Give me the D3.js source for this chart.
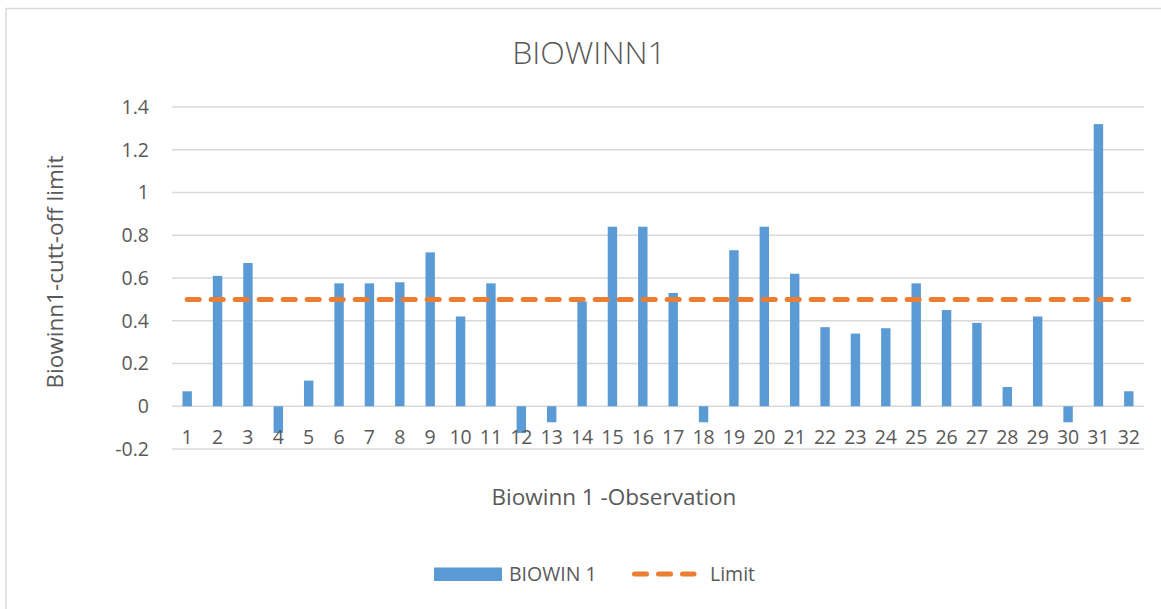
<!DOCTYPE html>
<html>
<head>
<meta charset="utf-8">
<script src="https://cdn.jsdelivr.net/npm/d3@7"></script>
<style>
  html, body { margin: 0; padding: 0; background: #fff; }
  svg text { font-family: "Open Sans", "Noto Sans", sans-serif; fill: #595959; }
</style>
</head>
<body>
<svg id="chart" width="1161" height="609"></svg>
<script>
// Observations 1..32 and their BIOWIN 1 scores
const observations = d3.range(1, 33).map(String);
const biowin1 = [
  0.07, 0.61, 0.67, -0.125, 0.12, 0.575, 0.575, 0.58, 0.72, 0.42,
  0.575, -0.125, -0.075, 0.49, 0.84, 0.84, 0.53, -0.075, 0.73, 0.84,
  0.62, 0.37, 0.34, 0.365, 0.575, 0.45, 0.39, 0.09, 0.42, -0.075,
  1.32, 0.07
];
// Cut-off limit, constant across all observations
const limit = observations.map(() => 0.5);
const yTicks = [-0.2, 0, 0.2, 0.4, 0.6, 0.8, 1, 1.2, 1.4];

const svg = d3.select("#chart");
const margin = { left: 172, right: 1144, top: 107, bottom: 449 };

// Chart frame
svg.append("rect")
  .attr("x", 6).attr("y", 8.5)
  .attr("width", 1170).attr("height", 620)
  .attr("fill", "#fff")
  .attr("stroke", "#d9d9d9").attr("stroke-width", 1.5);

const x = d3.scaleBand()
  .domain(observations)
  .range([margin.left, margin.right])
  .paddingInner(0.69)
  .paddingOuter(0.345);

const y = d3.scaleLinear()
  .domain([-0.2, 1.4])
  .range([margin.bottom, margin.top]);

// Horizontal gridlines
svg.append("g")
  .selectAll("line")
  .data(yTicks)
  .join("line")
  .attr("x1", margin.left).attr("x2", margin.right)
  .attr("y1", d => y(d)).attr("y2", d => y(d))
  .attr("stroke", "#d9d9d9").attr("stroke-width", 1.3);

// Y axis labels
const yAxis = d3.axisLeft(y).tickValues(yTicks).tickSize(0).tickPadding(0)
  .tickFormat(d => String(+d.toFixed(1)));
svg.append("g")
  .attr("transform", `translate(${149},0)`)
  .call(yAxis)
  .call(g => g.select(".domain").remove())
  .call(g => g.selectAll("text")
    .attr("font-size", 19.5)
    .attr("fill", "#595959")
    .attr("font-family", '"Open Sans", sans-serif'));

// Bars
svg.append("g")
  .selectAll("rect")
  .data(biowin1)
  .join("rect")
  .attr("x", (d, i) => x(observations[i]))
  .attr("width", x.bandwidth())
  .attr("y", d => y(Math.max(0, d)))
  .attr("height", d => Math.abs(y(d) - y(0)))
  .attr("fill", "#5b9bd5");

// X axis labels just under the zero line
const xAxis = d3.axisBottom(x).tickSize(0).tickPadding(0);
svg.append("g")
  .attr("transform", `translate(0,${y(0)})`)
  .call(xAxis)
  .call(g => g.select(".domain").remove())
  .call(g => g.selectAll("text")
    .attr("dy", null)
    .attr("y", 38)
    .attr("font-size", 19.5)
    .attr("fill", "#595959")
    .attr("font-family", '"Open Sans", sans-serif'));

// Limit line
const line = d3.line()
  .x((d, i) => x(observations[i]) + x.bandwidth() / 2)
  .y(d => y(d));
svg.append("path")
  .datum(limit)
  .attr("d", line)
  .attr("fill", "none")
  .attr("stroke", "#ed7d31")
  .attr("stroke-width", 5)
  .attr("stroke-linecap", "round")
  .attr("stroke-dasharray", "12,12");

// Title
svg.append("text")
  .attr("x", 589).attr("y", 64)
  .attr("text-anchor", "middle")
  .attr("font-size", 32)
  .attr("font-weight", 300)
  .text("BIOWINN1");

// Axis titles
svg.append("text")
  .attr("x", 614).attr("y", 505)
  .attr("text-anchor", "middle")
  .attr("font-size", 22.5)
  .text("Biowinn 1 -Observation");

svg.append("text")
  .attr("transform", "translate(63,272) rotate(-90)")
  .attr("text-anchor", "middle")
  .attr("font-size", 22.5)
  .text("Biowinn1-cutt-off limit");

// Legend
const legend = svg.append("g");
legend.append("rect")
  .attr("x", 434).attr("y", 567.5)
  .attr("width", 68).attr("height", 13.5)
  .attr("fill", "#5b9bd5");
legend.append("text")
  .attr("x", 509).attr("y", 581)
  .attr("font-size", 19.5)
  .text("BIOWIN 1");
legend.append("line")
  .attr("x1", 634.5).attr("x2", 694)
  .attr("y1", 574).attr("y2", 574)
  .attr("stroke", "#ed7d31")
  .attr("stroke-width", 5)
  .attr("stroke-linecap", "round")
  .attr("stroke-dasharray", "12,12");
legend.append("text")
  .attr("x", 710).attr("y", 581)
  .attr("font-size", 19.5)
  .text("Limit");
</script>
</body>
</html>
